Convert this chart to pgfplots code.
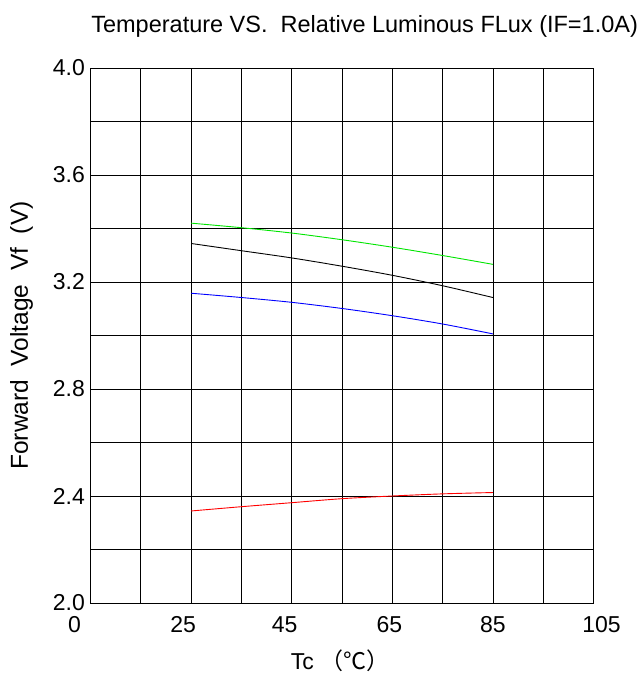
\documentclass[border=0pt]{standalone}
\usepackage{pgfplots}
\pgfplotsset{compat=1.18}
\usepackage{fontspec}
\setmainfont{Liberation Sans}
\newfontfamily\cjk{Noto Sans CJK SC}
\begin{document}
\begin{tikzpicture}[x=1pt,y=1pt]
\path[use as bounding box] (-90.5,-75) rectangle (547.5,603);
\begin{axis}[
    scale only axis,
    width=503pt, height=535pt,
    xmin=5, xmax=105,
    ymin=2.0, ymax=4.0,
    xtick={5,25,45,65,85,105},
    xticklabels={0\hspace*{32pt},25\hspace*{16pt},45\hspace*{14pt},65\hspace*{6pt},85,\hspace*{16pt}105},
    minor xtick={15,35,55,75,95},
    ytick={2.0,2.4,2.8,3.2,3.6,4.0},
    yticklabels={2.0,2.4,2.8,3.2,3.6,4.0},
    minor ytick={2.2,2.6,3.0,3.4,3.8},
    major tick length=0pt, minor tick length=0pt,
    grid=both,
    major grid style={black, line width=0.8pt},
    minor grid style={black, line width=0.8pt},
    axis line style={black, line width=0.9pt},
    tick label style={font=\fontsize{23}{26}\selectfont, inner sep=1pt},
    xticklabel style={yshift=-12pt},
    yticklabel style={xshift=-4.5pt},
    title={Temperature VS.\ \ Relative Luminous FLux (IF=1.0A)},
    title style={at={(0.545,1.066)}, anchor=center, font=\fontsize{23.5}{26}\selectfont},
    xlabel={Tc {\cjk （℃）}},
    xlabel style={at={(0.496,-0.108)}, anchor=center, font=\fontsize{23}{26}\selectfont},
    ylabel={Forward\ \ Voltage\ \ Vf\ \ (V)},
    ylabel style={at={(-0.137,0.5)}, anchor=center, font=\fontsize{24.5}{27}\selectfont},
]
\addplot[green!90!black, line width=0.9pt, smooth] coordinates {
    (25,3.420) (35,3.403) (45,3.383) (55,3.358) (65,3.330) (75,3.299) (85,3.266)};
\addplot[black, line width=0.9pt, smooth] coordinates {
    (25,3.344) (35,3.317) (45,3.290) (55,3.259) (65,3.225) (75,3.186) (85,3.142)};
\addplot[blue, line width=0.9pt, smooth] coordinates {
    (25,3.158) (35,3.142) (45,3.124) (55,3.101) (65,3.074) (75,3.043) (85,3.006)};
\addplot[red, line width=0.9pt, smooth] coordinates {
    (25,2.344) (35,2.360) (45,2.375) (55,2.390) (65,2.400) (75,2.408) (85,2.413)};
\end{axis}
\end{tikzpicture}
\end{document}
